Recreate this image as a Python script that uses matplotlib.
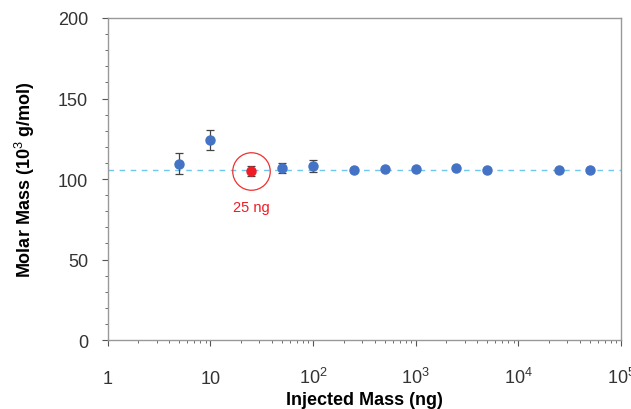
import matplotlib
matplotlib.use("Agg")
import matplotlib.pyplot as plt
from matplotlib.ticker import FixedLocator, LogLocator, NullFormatter, MultipleLocator
import numpy as np

plt.rcParams['font.family'] = ['Liberation Sans', 'DejaVu Sans']
plt.rcParams['mathtext.fontset'] = 'custom'
plt.rcParams['mathtext.rm'] = 'Liberation Sans'
plt.rcParams['mathtext.bf'] = 'Liberation Sans:bold'
plt.rcParams['mathtext.it'] = 'Liberation Sans:italic'

# Data
injected_mass = [5, 10, 50, 100, 250, 500, 1000, 2500, 5000, 25000, 50000]
molar_mass = [109.5, 124.2, 107.0, 108.0, 105.4, 106.0, 106.4, 107.0, 105.8, 105.8, 105.8]
molar_err = [6.5, 6.2, 3.0, 3.7, 0, 0, 0, 0, 0, 0, 0]
highlight_mass = [25]
highlight_molar = [105.0]
highlight_err = [3.0]
highlight_label = "25 ng"
reference_level = 105.7
x_ticks = [1, 10, 100, 1000, 10000, 100000]
x_tick_labels = ["1", "10", "10$^{2}$", "10$^{3}$", "10$^{4}$", "10$^{5}$"]
y_ticks = [0, 50, 100, 150, 200]

fig = plt.figure(figsize=(6.31, 4.10), dpi=100)
ax = fig.add_axes([0.1704, 0.168, 0.8136, 0.7857])

ax.set_xscale('log')
ax.set_xlim(1, 1e5)
ax.set_ylim(0, 200)

ax.axhline(reference_level, color='#6cc6ee', lw=1.0, ls=(0, (4, 4)), zorder=1)

ax.errorbar(injected_mass, molar_mass, yerr=molar_err, fmt='o', color='#4472C4',
            ecolor='#444444', elinewidth=0.9, capsize=3, capthick=0.9,
            markersize=6.5, zorder=3)
ax.errorbar(highlight_mass, highlight_molar, yerr=highlight_err, fmt='o', color='#ee1c24',
            ecolor='#444444', elinewidth=0.9, capsize=3, capthick=0.9,
            markersize=6.5, zorder=3)
ax.plot(highlight_mass, highlight_molar, 'o', markersize=27, markerfacecolor='none',
        markeredgecolor='#ee3030', markeredgewidth=0.9, zorder=2)
ax.annotate(highlight_label, (highlight_mass[0], highlight_molar[0]), xytext=(0, -26),
            textcoords='offset points', ha='center', va='center', color='#ee1c24', fontsize=10.5)

ax.xaxis.set_major_locator(FixedLocator(x_ticks))
ax.set_xticklabels(x_tick_labels, va='baseline')
ax.xaxis.set_minor_locator(LogLocator(base=10, subs=np.arange(2, 10)))
ax.xaxis.set_minor_formatter(NullFormatter())
ax.set_yticks(y_ticks)
ax.yaxis.set_minor_locator(MultipleLocator(10))

for s in ax.spines.values():
    s.set_color('#999999')
    s.set_linewidth(1.0)

ax.tick_params(axis='both', which='major', direction='out', length=4, color='#555555',
               labelsize=13, labelcolor='#333333')
ax.tick_params(axis='x', which='major', pad=27)
ax.tick_params(axis='y', which='major', pad=10)
ax.tick_params(axis='both', which='minor', direction='out', length=2.5, color='#555555')

ax.set_ylabel('Molar Mass (10$^{3}$ g/mol)', fontsize=13, fontweight='bold', va='center')
ax.yaxis.set_label_coords(-0.161, 0.5)
ax.set_xlabel('Injected Mass (ng)', fontsize=13, fontweight='bold', va='center')
ax.xaxis.set_label_coords(0.5, -0.185)

fig.savefig('out.png', dpi=100)
